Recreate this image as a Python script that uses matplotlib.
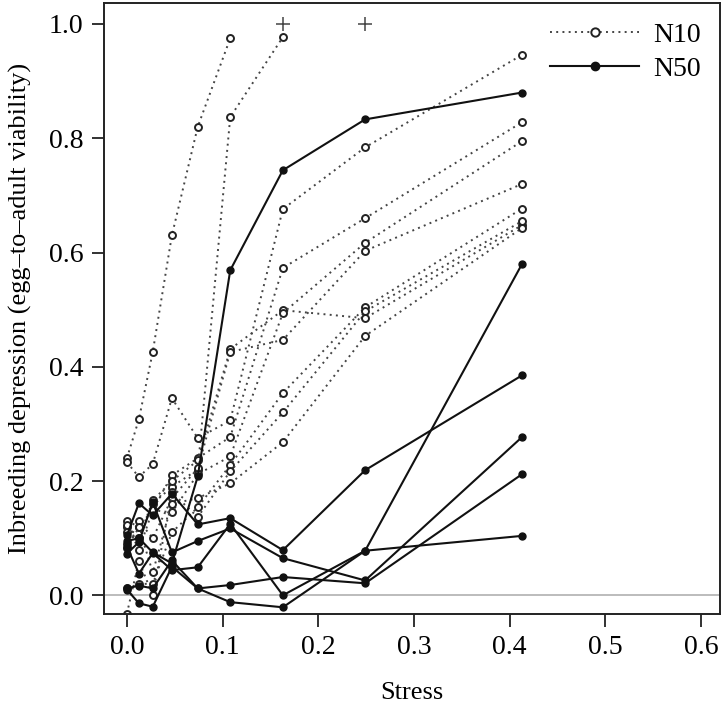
import matplotlib
matplotlib.use("Agg")
import matplotlib.pyplot as plt
from matplotlib.lines import Line2D

plt.rcParams['font.family'] = ['Liberation Serif', 'DejaVu Serif']

# stress levels
stress = [0, 0.0125, 0.027, 0.047, 0.074, 0.108, 0.163, 0.249, 0.413]

# N10 lines (dotted, open circles); some stop early (values beyond 1)
n10_lines = [
    [0.24, 0.308, 0.426, 0.63, 0.82, 0.975],
    [0.12, 0.10, 0.16, 0.19, 0.22, 0.837, 0.977],
    [0.233, 0.207, 0.23, 0.345, 0.275, 0.306, 0.676, 0.784, 0.946],
    [0.13, 0.12, 0.15, 0.21, 0.24, 0.277, 0.573, 0.66, 0.828],
    [0.11, 0.10, 0.166, 0.20, 0.236, 0.431, 0.499, 0.485, 0.648],
    [0.09, 0.13, 0.10, 0.17, 0.222, 0.426, 0.447, 0.603, 0.72],
    [0.123, 0.08, 0.149, 0.145, 0.212, 0.243, 0.494, 0.617, 0.795],
    [0.012, 0.02, 0.02, 0.11, 0.154, 0.228, 0.354, 0.504, 0.677],
    [-0.032, 0.06, 0.0, 0.18, 0.137, 0.217, 0.32, 0.497, 0.655],
    [0.082, 0.119, 0.04, 0.16, 0.17, 0.196, 0.268, 0.454, 0.643],
]

# N50 lines (solid, filled circles)
n50_lines = [
    [0.095, 0.10, 0.075, 0.056, 0.208, 0.569, 0.744, 0.833, 0.880],
    [0.105, 0.161, 0.14, 0.178, 0.124, 0.135, 0.079, 0.219, 0.385],
    [0.073, 0.093, 0.163, 0.075, 0.095, 0.117, 0.065, 0.026, 0.277],
    [0.085, 0.038, 0.074, 0.044, 0.049, 0.125, 0.0, 0.078, 0.580],
    [0.012, 0.017, 0.012, 0.061, 0.012, 0.018, 0.032, 0.021, 0.212],
    [0.010, -0.014, -0.020, 0.05, 0.012, -0.012, -0.021, 0.078, 0.104],
]

# points where inbreeding depression reached 1 (shown with +)
plus_x = [0.163, 0.249]
plus_y = [1.0, 1.0]

fig = plt.figure(figsize=(7.24, 7.10), dpi=100)
ax = fig.add_axes([0.1436, 0.135, 0.851, 0.861])

ax.axhline(0, color="#b0b0b0", lw=1.2, zorder=0)

for ys in n10_lines:
    ax.plot(stress[:len(ys)], ys, linestyle=(0, (1, 2.2)), color="#444444", lw=1.4,
            marker='o', ms=5, mfc='white', mec='#222222', mew=1.4)

for ys in n50_lines:
    ax.plot(stress, ys, linestyle='-', color="#111111", lw=1.5,
            marker='o', ms=5, mfc='#111111', mec='#111111')

ax.plot(plus_x, plus_y, linestyle='none', marker='+', ms=10, mew=1.1, color="#444444")

ax.set_xlim(-0.024, 0.62)
ax.set_ylim(-0.033, 1.037)
ax.set_xticks([0, 0.1, 0.2, 0.3, 0.4, 0.5, 0.6])
ax.set_yticks([0, 0.2, 0.4, 0.6, 0.8, 1.0])
ax.set_xticklabels(["0.0", "0.1", "0.2", "0.3", "0.4", "0.5", "0.6"])
ax.set_yticklabels(["0.0", "0.2", "0.4", "0.6", "0.8", "1.0"])
ax.tick_params(direction='out', length=9, width=1.3, labelsize=20, pad=6, color="#222222")
for s in ax.spines.values():
    s.set_linewidth(1.4)
    s.set_color("#222222")

ax.set_xlabel("Stress", fontsize=19, labelpad=16)
ax.set_ylabel("Inbreeding depression (egg\u2013to\u2013adult viability)", fontsize=19, labelpad=12)

handles = [
    Line2D([], [], linestyle=(0, (1, 2.2)), color="#444444", lw=1.4, marker='o', ms=6,
           mfc='white', mec='#222222', mew=1.4),
    Line2D([], [], linestyle='-', color="#111111", lw=1.5, marker='o', ms=6,
           mfc='#111111', mec='#111111'),
]
ax.legend(handles, ["N10", "N50"], loc='upper right', frameon=False, fontsize=20,
          handlelength=3.2, handletextpad=0.5, labelspacing=0.3,
          borderaxespad=0.3)

fig.savefig("out.png", dpi=100)
